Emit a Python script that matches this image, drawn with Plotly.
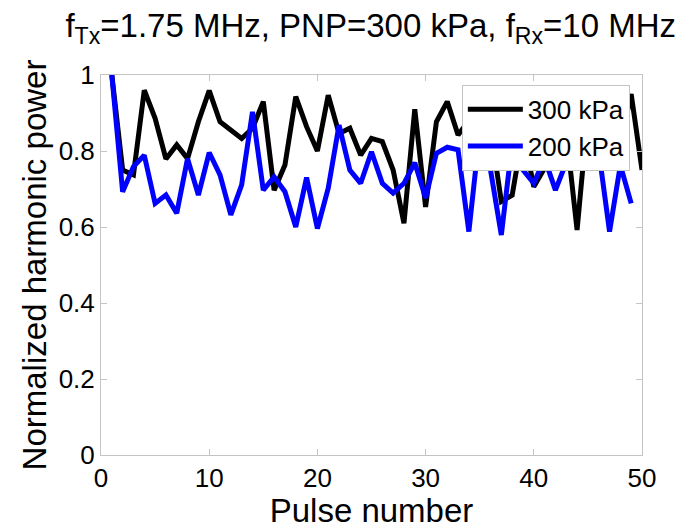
import plotly.graph_objects as go

pulse_300 = list(range(1, 51))
power_300 = [1.0, 0.75, 0.737, 0.96, 0.886, 0.779, 0.816, 0.78, 0.877, 0.959,
             0.877, 0.855, 0.833, 0.86, 0.93, 0.697, 0.763, 0.943, 0.864, 0.80,
             0.947, 0.846, 0.86, 0.789, 0.833, 0.825, 0.75, 0.61, 0.91, 0.653,
             0.877, 0.93, 0.842, 0.88, 0.82, 0.86, 0.667, 0.684, 0.85, 0.706,
             0.755, 0.77, 0.85, 0.592, 0.9, 0.85, 0.88, 0.82, 0.95, 0.75]
pulse_200 = list(range(1, 50))
power_200 = [1.0, 0.693, 0.759, 0.789, 0.662, 0.684, 0.636, 0.78, 0.684, 0.796,
             0.737, 0.632, 0.711, 0.903, 0.697, 0.732, 0.693, 0.60, 0.73, 0.596,
             0.702, 0.868, 0.75, 0.715, 0.798, 0.715, 0.689, 0.715, 0.769, 0.676,
             0.794, 0.81, 0.803, 0.588, 0.85, 0.75, 0.579, 0.82, 0.75, 0.715,
             0.78, 0.697, 0.77, 0.82, 0.85, 0.80, 0.588, 0.763, 0.662]
x_ticks = [0, 10, 20, 30, 40, 50]
y_ticks = [0, 0.2, 0.4, 0.6, 0.8, 1]
y_tick_text = ["0", "0.2", "0.4", "0.6", "0.8", "1"]

FONT = "Liberation Sans, Arial, sans-serif"
AXC = "#c4c4c4"

fig = go.Figure()
fig.add_trace(go.Scatter(x=pulse_300, y=power_300, mode="lines", name="300 kPa",
                         line=dict(color="black", width=5)))
fig.add_trace(go.Scatter(x=pulse_200, y=power_200, mode="lines", name="200 kPa",
                         line=dict(color="#0000ff", width=5)))

axis_common = dict(showline=True, linecolor=AXC, linewidth=1, mirror="ticks",
                   ticks="inside", ticklen=6, tickcolor=AXC, showgrid=False,
                   zeroline=False, automargin=False,
                   tickfont=dict(family=FONT, size=26, color="black"))

title_text = "f<sub>Tx</sub>=1.75 MHz, PNP=300 kPa, f<sub>Rx</sub>=10 MHz"

# the page body adds an 8px offset, so the figure is sized 8px smaller
fig.update_layout(
    width=687, height=521,
    paper_bgcolor="white", plot_bgcolor="white",
    margin=dict(l=93, r=53, t=67, b=74),
    title=dict(text=title_text,
               x=0.528, xanchor="center", y=0.966, yanchor="middle",
               font=dict(family=FONT, size=33, color="black")),
    xaxis=dict(range=[0, 50], tickvals=x_ticks,
               title=dict(text="Pulse number", standoff=2,
                          font=dict(family=FONT, size=33, color="black")),
               **axis_common),
    yaxis=dict(range=[0, 1], tickvals=y_ticks, ticktext=y_tick_text,
               title=dict(text="Normalized harmonic power", standoff=2,
                          font=dict(family=FONT, size=33, color="black")),
               **axis_common),
    legend=dict(x=0.667, y=0.974, xanchor="left", yanchor="top",
                bgcolor="white", bordercolor=AXC, borderwidth=1,
                font=dict(family=FONT, size=26, color="black"),
                tracegroupgap=0, itemwidth=55),
    showlegend=True,
)

fig.write_html("out.html")
